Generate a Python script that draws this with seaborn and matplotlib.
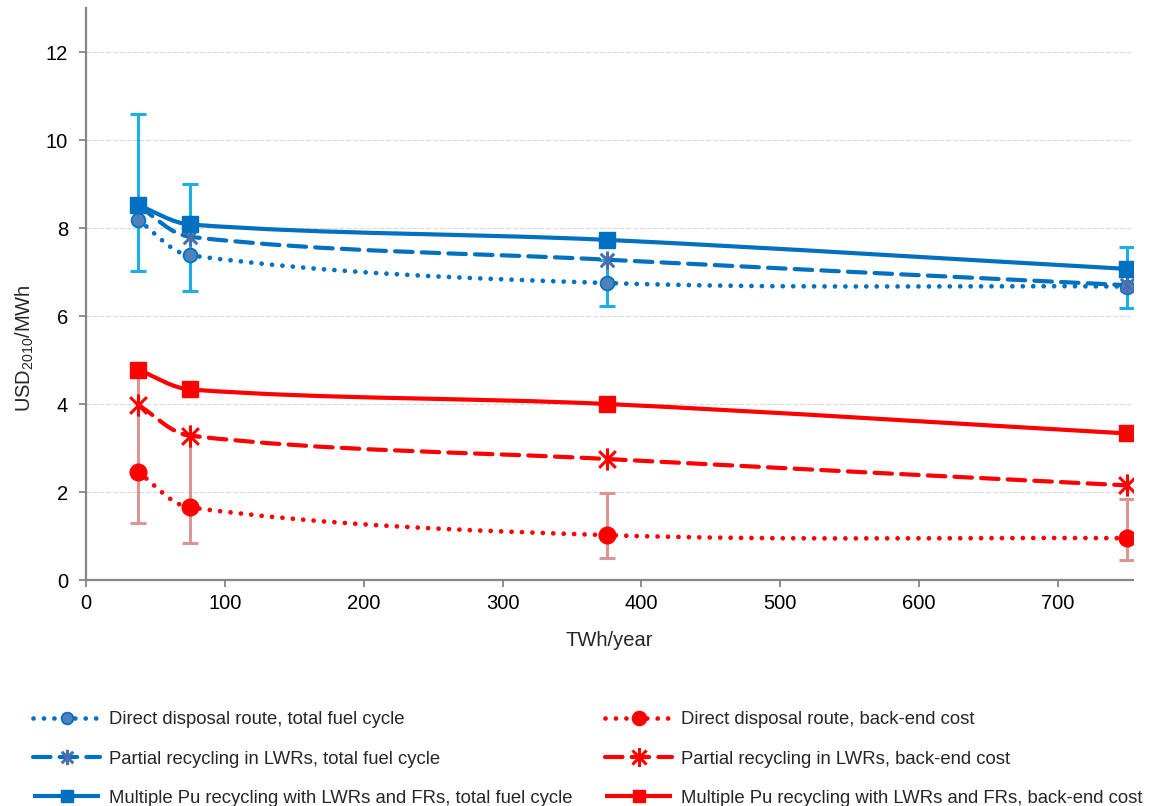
import numpy as np
import matplotlib
matplotlib.use("Agg")
import matplotlib.pyplot as plt
import seaborn as sns
from matplotlib.path import Path
from matplotlib.patches import PathPatch
from matplotlib.lines import Line2D

# ---------------- data ----------------
twh = [37.5, 75, 375, 750]

direct_total = [8.18, 7.38, 6.75, 6.67]
partial_total = [8.50, 7.80, 7.28, 6.70]
multiple_total = [8.52, 8.08, 7.73, 7.07]

direct_backend = [2.45, 1.65, 1.02, 0.95]
partial_backend = [3.98, 3.28, 2.75, 2.15]
multiple_backend = [4.78, 4.33, 4.00, 3.33]

total_err_low = [7.02, 6.57, 6.23, 6.18]
total_err_high = [10.60, 9.00, 7.28, 7.57]
backend_err_low = [1.30, 0.84, 0.50, 0.45]
backend_err_high = [4.78, 3.30, 1.98, 1.84]

labels_total = ["Direct disposal route, total fuel cycle",
                "Partial recycling in LWRs, total fuel cycle",
                "Multiple Pu recycling with LWRs and FRs, total fuel cycle"]
labels_backend = ["Direct disposal route, back-end cost",
                  "Partial recycling in LWRs, back-end cost",
                  "Multiple Pu recycling with LWRs and FRs, back-end cost"]

x_ticks = [0, 100, 200, 300, 400, 500, 600, 700]
y_ticks = [0, 2, 4, 6, 8, 10, 12]

# ---------------- style ----------------
sns.set_theme(style="white")
plt.rcParams["font.family"] = ["Liberation Sans", "DejaVu Sans"]
plt.rcParams["mathtext.default"] = "regular"

BLUE = "#0070C0"
RED = "#FF0000"
BLUE_ERR = "#1AAFE6"
RED_ERR = "#D99694"
GRAY = "#868686"

fig = plt.figure(figsize=(11.56, 8.06), dpi=100)
ax = fig.add_axes([86 / 1156, 1 - 580 / 806, (1133 - 86) / 1156, (580 - 8) / 806])
ax.set_xlim(0, 754)
ax.set_ylim(0, 13)

# star (asterisk) marker like Excel
star = Path([(0, -1), (0, 1), (-0.75, -0.75), (0.75, 0.75), (-0.75, 0.75), (0.75, -0.75)],
            [Path.MOVETO, Path.LINETO, Path.MOVETO, Path.LINETO, Path.MOVETO, Path.LINETO])

DOT = (0, (0.01, 2.2))
DASH = (0, (4.2, 2.2))


def smooth_path(xs, ys):
    pts = ax.transData.transform(np.column_stack([xs, ys]))
    n = len(pts)
    verts = [pts[0]]
    codes = [Path.MOVETO]
    for i in range(n - 1):
        p0, p1 = pts[i], pts[i + 1]
        prev = pts[i - 1] if i > 0 else pts[i]
        nxt = pts[i + 2] if i + 2 < n else pts[i + 1]
        t0 = p1 - prev
        t0 = t0 / np.linalg.norm(t0)
        t1 = nxt - p0
        t1 = t1 / np.linalg.norm(t1)
        d = np.linalg.norm(p1 - p0) / 3.0
        verts += [p0 + t0 * d, p1 - t1 * d, p1]
        codes += [Path.CURVE4] * 3
    data_verts = ax.transData.inverted().transform(np.array(verts))
    return Path(data_verts, codes)


def draw_curve(ys, color, ls, lw, z=3):
    patch = PathPatch(smooth_path(twh, ys), fill=False, edgecolor=color, lw=lw,
                      linestyle=ls, capstyle="round", joinstyle="round", zorder=z)
    ax.add_patch(patch)


# grid
for yv in y_ticks[1:]:
    ax.axhline(yv, color="#D9D9D9", lw=0.8, ls=(0, (4, 2)), zorder=0)

# error bars
mid_t = [(a + b) / 2 for a, b in zip(total_err_low, total_err_high)]
ax.errorbar(twh, mid_t, yerr=[np.subtract(mid_t, total_err_low), np.subtract(total_err_high, mid_t)],
            fmt="none", ecolor=BLUE_ERR, elinewidth=2.2, capsize=6, capthick=2.2, zorder=2)
mid_b = [(a + b) / 2 for a, b in zip(backend_err_low, backend_err_high)]
ax.errorbar(twh, mid_b, yerr=[np.subtract(mid_b, backend_err_low), np.subtract(backend_err_high, mid_b)],
            fmt="none", ecolor=RED_ERR, elinewidth=2.2, capsize=6, capthick=2.2, zorder=2)

# curves
series = [
    (direct_total, BLUE, DOT, 3.4, "o", 10, "#4F81BD", BLUE, 1.2),
    (partial_total, BLUE, DASH, 3.0, star, 13, "none", "#4A6FAE", 2.2),
    (multiple_total, BLUE, "-", 3.0, "s", 11, BLUE, BLUE, 1.0),
    (direct_backend, RED, DOT, 3.4, "o", 12, RED, RED, 1.0),
    (partial_backend, RED, DASH, 3.0, star, 16, "none", RED, 2.2),
    (multiple_backend, RED, "-", 3.0, "s", 11, RED, RED, 1.0),
]

handles = []
for ys, col, ls, lw, mk, ms, mfc, mec, mew in series:
    draw_curve(ys, col, ls, lw)
    sns.lineplot(x=twh, y=ys, ax=ax, linestyle="none", marker=mk, markersize=ms,
                 markerfacecolor=mfc, markeredgecolor=mec, markeredgewidth=mew,
                 color=col, zorder=4, legend=False)
    h = Line2D([], [], color=col, lw=lw, linestyle=ls, dash_capstyle="round",
               solid_capstyle="butt", marker=mk, markersize=ms * 0.85,
               markerfacecolor=mfc, markeredgecolor=mec, markeredgewidth=mew)
    handles.append(h)

# axes styling
ax.set_xticks(x_ticks)
ax.set_yticks(y_ticks)
ax.tick_params(axis="both", labelsize=14.5, colors=GRAY, labelcolor="black",
               length=5, width=1.3, direction="out", bottom=True, left=True)
ax.tick_params(axis="x", pad=5)
ax.tick_params(axis="y", pad=8)
for s in ["top", "right"]:
    ax.spines[s].set_visible(False)
for s in ["left", "bottom"]:
    ax.spines[s].set_color(GRAY)
    ax.spines[s].set_linewidth(1.6)
ax.grid(False)

ax.set_xlabel("TWh/year", fontsize=14.5, labelpad=13)
ax.set_ylabel("USD$_{2010}$/MWh", fontsize=14.5)
ax.yaxis.set_label_coords(-0.048, 0.405)

leg_kw = dict(frameon=False, fontsize=13.3, handlelength=3.6, handletextpad=0.5,
              labelspacing=1.2, numpoints=1, loc="upper left", borderaxespad=0)
leg1 = fig.legend(handles[:3], labels_total, bbox_to_anchor=(26 / 1156, 1 - 704 / 806), **leg_kw)
leg2 = fig.legend(handles[3:], labels_backend, bbox_to_anchor=(598 / 1156, 1 - 704 / 806), **leg_kw)

fig.savefig("out.png", dpi=100)
